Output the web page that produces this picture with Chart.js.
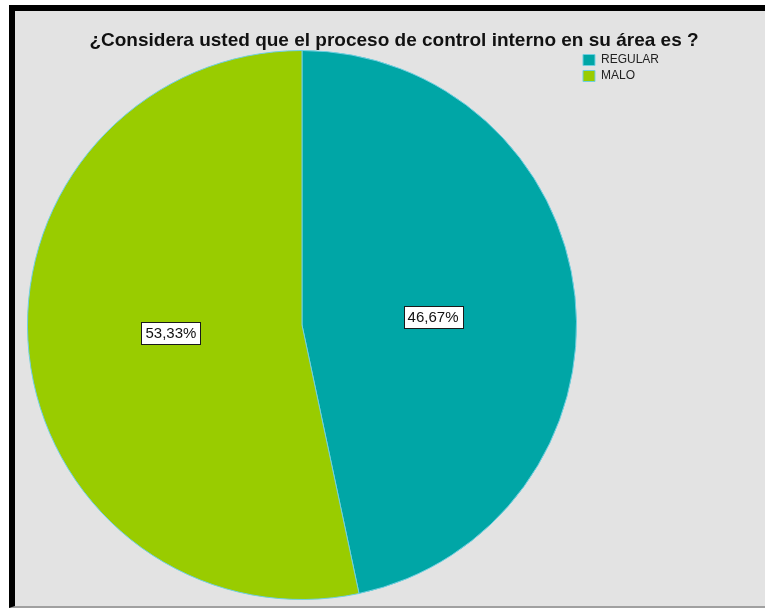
<!DOCTYPE html>
<html>
<head>
<meta charset="utf-8">
<script src="https://cdn.jsdelivr.net/npm/chart.js@4/dist/chart.umd.min.js"></script>
<style>
  html, body { margin: 0; padding: 0; background: #fff; overflow: hidden; }
  body { width: 765px; height: 608px; position: relative; }
  #frame {
    position: absolute; left: 9px; top: 5px;
    width: 800px; height: 595px;
    border-left: 6px solid #000; border-top: 6px solid #000;
    border-bottom: 2px solid #a0a0a0;
    background: #e3e3e3;
  }
  #chart { position: absolute; left: 15px; top: 11px; }
</style>
</head>
<body>
<div id="frame"></div>
<canvas id="chart" width="758" height="595"></canvas>
<script>
const titleText = '¿Considera usted que el proceso de control interno en su área es ?';
const categories = ['REGULAR', 'MALO'];
const percentages = [46.67, 53.33];
const sliceColors = ['#00a6a6', '#99cc00'];

const FONT = '"Liberation Sans", Arial, sans-serif';
const fmtPct = v => v.toFixed(2).replace('.', ',') + '%';

// title centred on the whole canvas, not on the pie area
const centeredTitle = {
  id: 'centeredTitle',
  afterDraw(chart) {
    const ctx = chart.ctx;
    ctx.save();
    ctx.font = 'bold 19px ' + FONT;
    ctx.fillStyle = '#111';
    ctx.textAlign = 'center';
    ctx.textBaseline = 'middle';
    ctx.fillText(titleText, chart.width / 2, 30);
    ctx.restore();
  }
};

// boxed percentage label inside each slice
const sliceLabels = {
  id: 'sliceLabels',
  afterDatasetsDraw(chart) {
    const ctx = chart.ctx;
    const meta = chart.getDatasetMeta(0);
    ctx.save();
    ctx.font = '15px ' + FONT;
    ctx.textAlign = 'center';
    ctx.textBaseline = 'middle';
    meta.data.forEach((arc, i) => {
      const p = arc.getProps(['x', 'y', 'startAngle', 'endAngle', 'outerRadius'], true);
      const mid = (p.startAngle + p.endAngle) / 2;
      const d = p.outerRadius * 0.48;
      const x = p.x + Math.cos(mid) * d;
      const y = p.y + Math.sin(mid) * d * 0.6;
      const text = fmtPct(percentages[i]);
      const w = Math.round(ctx.measureText(text).width + 8);
      const h = 22;
      const bx = Math.round(x - w / 2) + 0.5;
      const by = Math.round(y - h / 2) + 0.5;
      ctx.fillStyle = '#ffffff';
      ctx.fillRect(bx, by, w, h);
      ctx.strokeStyle = '#1a1a1a';
      ctx.lineWidth = 1;
      ctx.strokeRect(bx, by, w, h);
      ctx.fillStyle = '#111';
      ctx.fillText(text, x, y + 1);
    });
    ctx.restore();
  }
};

new Chart(document.getElementById('chart'), {
  type: 'pie',
  data: {
    labels: categories,
    datasets: [{
      data: percentages,
      backgroundColor: sliceColors,
      borderColor: '#6fcfe0',
      borderWidth: 1
    }]
  },
  options: {
    responsive: false,
    animation: false,
    layout: { padding: { left: 10, right: 104, top: 39, bottom: 6 } },
    plugins: {
      title: { display: false },
      legend: {
        position: 'right',
        align: 'start',
        fullSize: false,
        labels: {
          boxWidth: 12,
          boxHeight: 11,
          padding: 4,
          color: '#222',
          font: { family: FONT, size: 12 }
        }
      },
      tooltip: { enabled: false }
    }
  },
  plugins: [sliceLabels, centeredTitle]
});
</script>
</body>
</html>
